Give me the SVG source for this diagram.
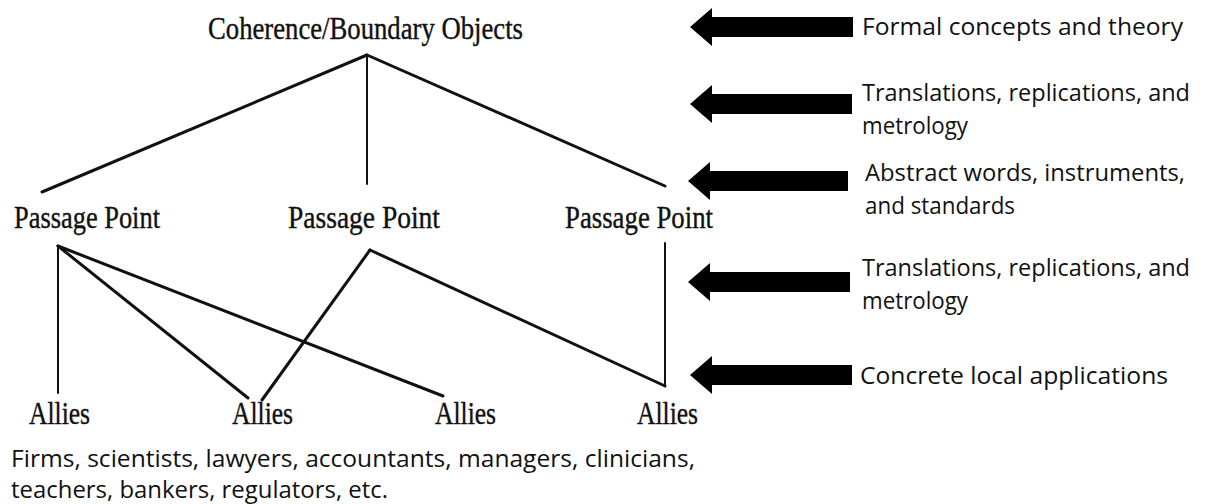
<svg xmlns="http://www.w3.org/2000/svg" width="1213" height="504" viewBox="0 0 1213 504">
<defs>
<style>
.serif{font-family:"Liberation Serif","Times New Roman",serif;font-size:32px;fill:#111;stroke:#111;stroke-width:0.4}
.sans{font-family:"Open Sans","Noto Sans",sans-serif;font-size:23px;fill:#111}
.ln{stroke:#111;stroke-width:3;fill:none;stroke-linecap:round}
.arr{fill:#000}
</style>
</defs>
<rect width="1213" height="504" fill="#fff"/>
<g id="connectors">
<line class="ln" x1="367" y1="55" x2="42" y2="192"/>
<line class="ln" x1="367" y1="55" x2="367" y2="184" style="stroke-width:2"/>
<line class="ln" x1="367" y1="55" x2="665" y2="186"/>
<line class="ln" x1="58" y1="246" x2="58" y2="393" style="stroke-width:2"/>
<line class="ln" x1="58" y1="246" x2="248" y2="398"/>
<line class="ln" x1="58" y1="246" x2="443" y2="396"/>
<line class="ln" x1="370" y1="250" x2="262" y2="400"/>
<line class="ln" x1="370" y1="250" x2="665" y2="386"/>
<line class="ln" x1="665" y1="243" x2="665" y2="386" style="stroke-width:2"/>
</g>
<g id="root"><text class="serif" x="208" y="39" textLength="315" lengthAdjust="spacingAndGlyphs">Coherence/Boundary Objects</text></g>
<g id="pp1"><text class="serif" x="14" y="228" textLength="146" lengthAdjust="spacingAndGlyphs">Passage Point</text></g>
<g id="pp2"><text class="serif" x="288" y="228" textLength="152" lengthAdjust="spacingAndGlyphs">Passage Point</text></g>
<g id="pp3"><text class="serif" x="565" y="228" textLength="148" lengthAdjust="spacingAndGlyphs">Passage Point</text></g>
<g id="allies1"><text class="serif" x="29" y="424" textLength="61" lengthAdjust="spacingAndGlyphs">Allies</text></g>
<g id="allies2"><text class="serif" x="232" y="424" textLength="61" lengthAdjust="spacingAndGlyphs">Allies</text></g>
<g id="allies3"><text class="serif" x="435" y="424" textLength="61" lengthAdjust="spacingAndGlyphs">Allies</text></g>
<g id="allies4"><text class="serif" x="637" y="424" textLength="61" lengthAdjust="spacingAndGlyphs">Allies</text></g>
<g id="allies-note">
<text class="sans" x="11" y="467" style="font-size:24px" textLength="684" lengthAdjust="spacingAndGlyphs">Firms, scientists, lawyers, accountants, managers, clinicians,</text>
<text class="sans" x="11" y="498" style="font-size:24px" textLength="377" lengthAdjust="spacingAndGlyphs">teachers, bankers, regulators, etc.</text>
</g>
<g id="level1">
<polygon class="arr" points="690,27 712,8 712,17 853,17 853,37 712,37 712,46"/>
<text class="sans" x="862" y="35" textLength="321" lengthAdjust="spacingAndGlyphs">Formal concepts and theory</text>
</g>
<g id="level2">
<polygon class="arr" points="690,104 712,85 712,94 852,94 852,114 712,114 712,123"/>
<text class="sans" x="862" y="101" textLength="328" lengthAdjust="spacingAndGlyphs">Translations, replications, and</text>
<text class="sans" x="862" y="134" textLength="106" lengthAdjust="spacingAndGlyphs">metrology</text>
</g>
<g id="level3">
<polygon class="arr" points="688,181 710,162 710,171 848,171 848,191 710,191 710,200"/>
<text class="sans" x="865" y="181" textLength="320" lengthAdjust="spacingAndGlyphs">Abstract words, instruments,</text>
<text class="sans" x="865" y="214" textLength="150" lengthAdjust="spacingAndGlyphs">and standards</text>
</g>
<g id="level4">
<polygon class="arr" points="688,282 710,263 710,272 850,272 850,292 710,292 710,301"/>
<text class="sans" x="862" y="276" textLength="328" lengthAdjust="spacingAndGlyphs">Translations, replications, and</text>
<text class="sans" x="862" y="309" textLength="106" lengthAdjust="spacingAndGlyphs">metrology</text>
</g>
<g id="level5">
<polygon class="arr" points="690,375 712,356 712,365 852,365 852,385 712,385 712,394"/>
<text class="sans" x="860" y="384" textLength="308" lengthAdjust="spacingAndGlyphs">Concrete local applications</text>
</g>
</svg>
